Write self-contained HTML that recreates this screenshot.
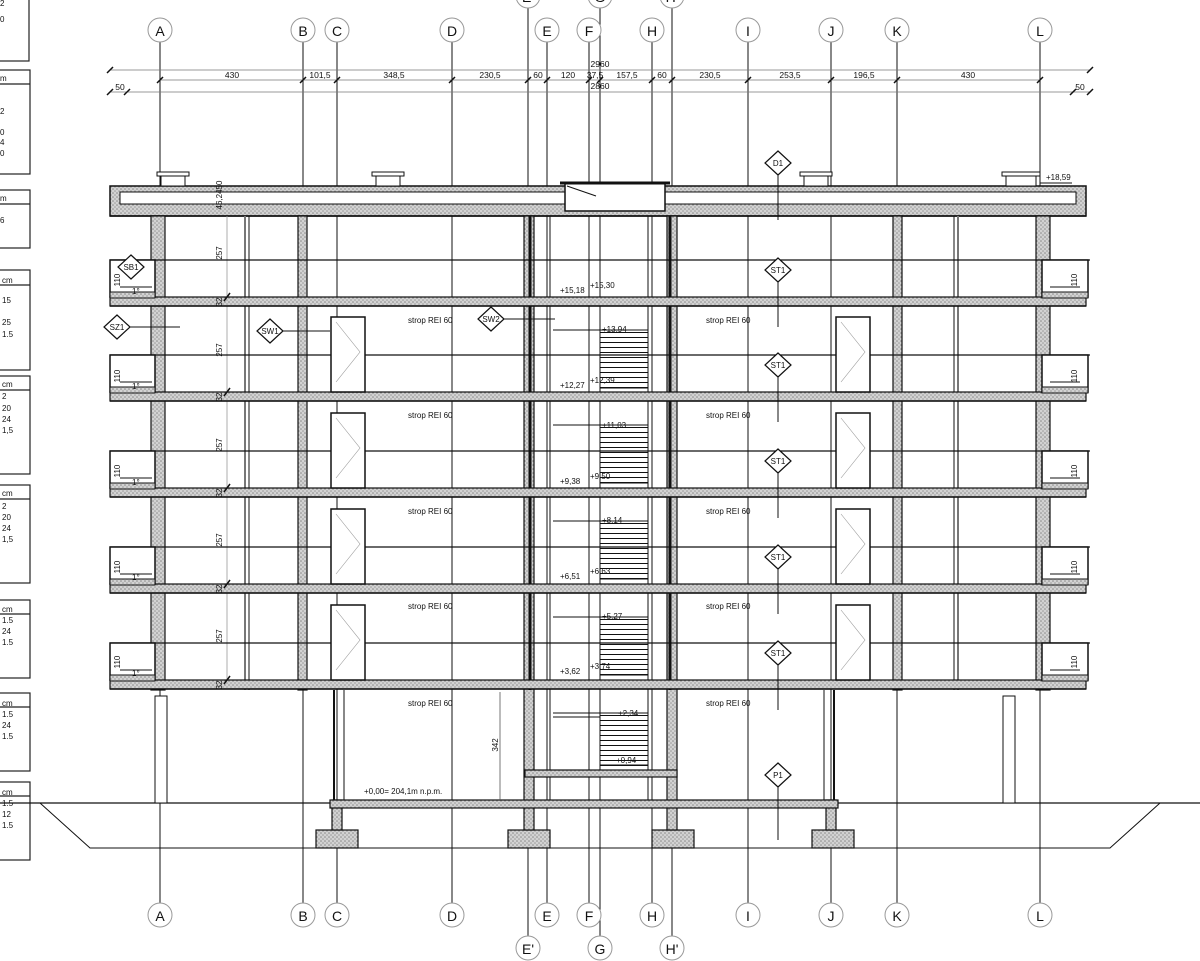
<!DOCTYPE html>
<html><head><meta charset="utf-8"><style>
html,body{margin:0;padding:0;background:#fff;}
svg{display:block;}
text{font-family:"Liberation Sans",sans-serif;fill:#111;stroke:none;}
</style></head><body>
<svg width="1200" height="961" viewBox="0 0 1200 961" xmlns="http://www.w3.org/2000/svg">
<defs>
<pattern id="h" width="4" height="4" patternUnits="userSpaceOnUse"><rect width="4" height="4" fill="#d2d2d2"/><circle cx="1" cy="1" r="0.8" fill="#888"/><circle cx="3" cy="3" r="0.8" fill="#999"/></pattern>
<pattern id="st" width="48" height="5" patternUnits="userSpaceOnUse"><rect width="48" height="5" fill="#fff"/><line x1="0" y1="0.5" x2="48" y2="0.5" stroke="#111" stroke-width="1"/></pattern>
<g id="dia"><polygon points="0,-12 13,0 0,12 -13,0" fill="#fff" stroke="#111" stroke-width="1.2"/></g>
<g id="door"><rect x="0" y="0" width="34" height="75" fill="#fff" stroke="#111" stroke-width="1.5"/><polyline points="5,5 29,35 5,65" fill="none" stroke="#999" stroke-width="0.6"/></g>
<g id="fl">
<rect x="110" y="0" width="976" height="9" fill="url(#h)" stroke="#111" stroke-width="1.2"/>
<line x1="110" y1="9" x2="1086" y2="9" stroke="#111" stroke-width="1.5"/>
<line x1="110" y1="-37" x2="1090" y2="-37" stroke="#111" stroke-width="1.2"/>
<rect x="110" y="-37" width="45" height="37" fill="#fff" stroke="#111" stroke-width="1.5"/>
<rect x="1042" y="-37" width="46" height="37" fill="#fff" stroke="#111" stroke-width="1.5"/>
<rect x="110" y="-5" width="45" height="6" fill="url(#h)" stroke="#111"/>
<rect x="1042" y="-5" width="46" height="6" fill="url(#h)" stroke="#111"/>
<line x1="120" y1="-10" x2="152" y2="-10" stroke="#111"/><line x1="1050" y1="-10" x2="1080" y2="-10" stroke="#111"/>
<line x1="778" y1="-15" x2="778" y2="30" stroke="#111"/>
<rect x="600" y="33" width="48" height="58" fill="url(#st)" stroke="#111"/>
<line x1="553" y1="33" x2="600" y2="33" stroke="#111"/><line x1="553" y1="-37" x2="600" y2="-37" stroke="#111"/>
<line x1="224" y1="4" x2="230" y2="-4" stroke="#111" stroke-width="1.5"/>
</g>
</defs>
<!-- legend boxes left -->
<g stroke="#222" fill="none" stroke-width="1.2">
<rect x="-2" y="-2" width="31" height="63"/>
<rect x="-2" y="70" width="32" height="104"/><line x1="-2" y1="84" x2="30" y2="84"/>
<rect x="-2" y="190" width="32" height="58"/><line x1="-2" y1="204" x2="30" y2="204"/>
<rect x="-2" y="270" width="32" height="100"/><line x1="-2" y1="285" x2="30" y2="285"/>
<rect x="-2" y="376" width="32" height="98"/><line x1="-2" y1="390" x2="30" y2="390"/>
<rect x="-2" y="485" width="32" height="98"/><line x1="-2" y1="499" x2="30" y2="499"/>
<rect x="-2" y="600" width="32" height="78"/><line x1="-2" y1="614" x2="30" y2="614"/>
<rect x="-2" y="693" width="32" height="78"/><line x1="-2" y1="707" x2="30" y2="707"/>
<rect x="-2" y="782" width="32" height="78"/><line x1="-2" y1="796" x2="30" y2="796"/>
</g>

<!-- axes -->
<g stroke="#111" stroke-width="1" fill="none">
<line x1="160" y1="42" x2="160" y2="903"/><line x1="303" y1="42" x2="303" y2="903"/><line x1="337" y1="42" x2="337" y2="903"/>
<line x1="452" y1="42" x2="452" y2="903"/><line x1="547" y1="42" x2="547" y2="903"/><line x1="589" y1="42" x2="589" y2="903"/>
<line x1="652" y1="42" x2="652" y2="903"/><line x1="748" y1="42" x2="748" y2="903"/><line x1="831" y1="42" x2="831" y2="903"/>
<line x1="897" y1="42" x2="897" y2="903"/><line x1="1040" y1="42" x2="1040" y2="903"/>
<line x1="528" y1="8" x2="528" y2="936"/><line x1="600" y1="8" x2="600" y2="936"/><line x1="672" y1="8" x2="672" y2="936"/>
</g>
<g stroke="#999" stroke-width="1" fill="#fff">
<circle cx="160" cy="30" r="12"/><circle cx="303" cy="30" r="12"/><circle cx="337" cy="30" r="12"/><circle cx="452" cy="30" r="12"/>
<circle cx="547" cy="30" r="12"/><circle cx="589" cy="30" r="12"/><circle cx="652" cy="30" r="12"/><circle cx="748" cy="30" r="12"/>
<circle cx="831" cy="30" r="12"/><circle cx="897" cy="30" r="12"/><circle cx="1040" cy="30" r="12"/>
<circle cx="528" cy="-4" r="12"/><circle cx="600" cy="-4" r="12"/><circle cx="672" cy="-4" r="12"/>
<circle cx="160" cy="915" r="12"/><circle cx="303" cy="915" r="12"/><circle cx="337" cy="915" r="12"/><circle cx="452" cy="915" r="12"/>
<circle cx="547" cy="915" r="12"/><circle cx="589" cy="915" r="12"/><circle cx="652" cy="915" r="12"/><circle cx="748" cy="915" r="12"/>
<circle cx="831" cy="915" r="12"/><circle cx="897" cy="915" r="12"/><circle cx="1040" cy="915" r="12"/>
<circle cx="528" cy="948" r="12"/><circle cx="600" cy="948" r="12"/><circle cx="672" cy="948" r="12"/>
</g>

<!-- dimension lines -->
<g stroke="#777" stroke-width="0.8">
<line x1="110" y1="70" x2="1090" y2="70"/><line x1="160" y1="80" x2="1040" y2="80"/><line x1="110" y1="92" x2="1090" y2="92"/>
</g>
<g stroke="#111" stroke-width="1.5">
<line x1="157" y1="83" x2="163" y2="77"/><line x1="300" y1="83" x2="306" y2="77"/><line x1="334" y1="83" x2="340" y2="77"/>
<line x1="449" y1="83" x2="455" y2="77"/><line x1="525" y1="83" x2="531" y2="77"/><line x1="544" y1="83" x2="550" y2="77"/>
<line x1="586" y1="83" x2="592" y2="77"/><line x1="597" y1="83" x2="603" y2="77"/><line x1="649" y1="83" x2="655" y2="77"/>
<line x1="669" y1="83" x2="675" y2="77"/><line x1="745" y1="83" x2="751" y2="77"/><line x1="828" y1="83" x2="834" y2="77"/>
<line x1="894" y1="83" x2="900" y2="77"/><line x1="1037" y1="83" x2="1043" y2="77"/>
<line x1="107" y1="95" x2="113" y2="89"/><line x1="124" y1="95" x2="130" y2="89"/><line x1="1070" y1="95" x2="1076" y2="89"/><line x1="1087" y1="95" x2="1093" y2="89"/>
<line x1="107" y1="73" x2="113" y2="67"/><line x1="1087" y1="73" x2="1093" y2="67"/>
</g>

<!-- roof -->
<rect x="110" y="186" width="976" height="30" fill="url(#h)" stroke="#111" stroke-width="1.5"/>
<rect x="120" y="192" width="956" height="12" fill="#fff" stroke="#111"/>
<line x1="110" y1="216" x2="1086" y2="216" stroke="#111" stroke-width="1.5"/>
<rect x="565" y="183" width="100" height="28" fill="#fff" stroke="#111" stroke-width="1.5"/>
<line x1="560" y1="183" x2="670" y2="183" stroke="#111" stroke-width="3"/>
<line x1="567" y1="186" x2="596" y2="196" stroke="#111"/>
<g fill="#fff" stroke="#111">
<rect x="157" y="172" width="32" height="4"/><rect x="161" y="176" width="24" height="10"/>
<rect x="372" y="172" width="32" height="4"/><rect x="376" y="176" width="24" height="10"/>
<rect x="800" y="172" width="32" height="4"/><rect x="804" y="176" width="24" height="10"/>
<rect x="1002" y="172" width="38" height="4"/><rect x="1006" y="176" width="30" height="10"/>
</g>
<line x1="1040" y1="183" x2="1072" y2="183" stroke="#111"/>

<!-- ground -->
<polyline points="40,803 90,848 1110,848 1160,803" fill="none" stroke="#111"/>
<line x1="0" y1="803" x2="1200" y2="803" stroke="#111" stroke-width="1.2"/>
<g fill="url(#h)" stroke="#111" stroke-width="1.2">
<rect x="316" y="830" width="42" height="18"/><rect x="508" y="830" width="42" height="18"/>
<rect x="652" y="830" width="42" height="18"/><rect x="812" y="830" width="42" height="18"/>
</g>

<!-- columns -->
<g fill="url(#h)" stroke="#111" stroke-width="1.2">
<rect x="151" y="216" width="14" height="474"/><rect x="298" y="216" width="9" height="474"/>
<rect x="524" y="216" width="10" height="614"/><rect x="667" y="216" width="10" height="614"/>
<rect x="893" y="216" width="9" height="474"/><rect x="1036" y="216" width="14" height="474"/>
<rect x="332" y="800" width="10" height="30"/><rect x="826" y="800" width="10" height="30"/>
</g>
<g stroke="#111" fill="none">
<line x1="245" y1="216" x2="245" y2="690" stroke="#777" stroke-width="2"/><line x1="249" y1="216" x2="249" y2="690"/>
<line x1="958" y1="216" x2="958" y2="690" stroke="#777" stroke-width="2"/><line x1="954" y1="216" x2="954" y2="690"/>
<line x1="530" y1="216" x2="530" y2="690" stroke-width="3"/><line x1="670" y1="216" x2="670" y2="690" stroke-width="3"/>
<line x1="550" y1="216" x2="550" y2="803"/><line x1="648" y1="216" x2="648" y2="803"/>
<line x1="227" y1="216" x2="227" y2="680" stroke="#999" stroke-width="0.8"/>
</g>

<!-- floors -->
<use href="#fl" y="297"/><use href="#fl" y="392"/><use href="#fl" y="488"/><use href="#fl" y="584"/><use href="#fl" y="680"/>
<use href="#door" x="331" y="317"/><use href="#door" x="836" y="317"/>
<use href="#door" x="331" y="413"/><use href="#door" x="836" y="413"/>
<use href="#door" x="331" y="509"/><use href="#door" x="836" y="509"/>
<use href="#door" x="331" y="605"/><use href="#door" x="836" y="605"/>

<!-- ground storey -->
<rect x="600" y="713" width="48" height="52" fill="url(#st)" stroke="#111"/>
<line x1="553" y1="717" x2="600" y2="717" stroke="#111"/>
<rect x="525" y="770" width="152" height="7" fill="url(#h)" stroke="#111" stroke-width="1.2"/>
<rect x="330" y="800" width="508" height="8" fill="url(#h)" stroke="#111" stroke-width="1.2"/>
<g stroke="#111" fill="none">
<line x1="334" y1="690" x2="334" y2="800" stroke-width="2"/><line x1="834" y1="690" x2="834" y2="800" stroke-width="2"/>
<line x1="344" y1="690" x2="344" y2="800"/><line x1="824" y1="690" x2="824" y2="800"/>
<rect x="155" y="696" width="12" height="107" fill="#fff"/><rect x="1003" y="696" width="12" height="107" fill="#fff"/>
<line x1="500" y1="692" x2="500" y2="800" stroke="#555" stroke-width="0.8"/>
<line x1="778" y1="175" x2="778" y2="220"/><line x1="778" y1="787" x2="778" y2="840"/>
<line x1="130" y1="327" x2="180" y2="327"/><line x1="283" y1="331" x2="330" y2="331"/><line x1="504" y1="319" x2="555" y2="319"/>
</g>

<!-- diamonds -->
<use href="#dia" x="778" y="163"/><use href="#dia" x="778" y="270"/><use href="#dia" x="778" y="365"/>
<use href="#dia" x="778" y="461"/><use href="#dia" x="778" y="557"/><use href="#dia" x="778" y="653"/>
<use href="#dia" x="778" y="775"/><use href="#dia" x="131" y="267"/><use href="#dia" x="117" y="327"/>
<use href="#dia" x="270" y="331"/><use href="#dia" x="491" y="319"/>

<!-- texts -->
<g font-size="8">
<text x="0" y="6">2</text><text x="0" y="22">0</text>
<text x="0" y="81">m</text><text x="0" y="114">2</text><text x="0" y="135">0</text><text x="0" y="145">4</text><text x="0" y="156">0</text>
<text x="0" y="201">m</text><text x="0" y="223">6</text>
<text x="2" y="283">cm</text><text x="2" y="303">15</text><text x="2" y="325">25</text><text x="2" y="337">1.5</text>
<text x="2" y="387">cm</text><text x="2" y="399">2</text><text x="2" y="411">20</text><text x="2" y="422">24</text><text x="2" y="433">1,5</text>
<text x="2" y="496">cm</text><text x="2" y="509">2</text><text x="2" y="520">20</text><text x="2" y="531">24</text><text x="2" y="542">1,5</text>
<text x="2" y="612">cm</text><text x="2" y="623">1.5</text><text x="2" y="634">24</text><text x="2" y="645">1.5</text>
<text x="2" y="706">cm</text><text x="2" y="717">1.5</text><text x="2" y="728">24</text><text x="2" y="739">1.5</text>
<text x="2" y="795">cm</text><text x="2" y="806">1.5</text><text x="2" y="817">12</text><text x="2" y="828">1.5</text>
</g>
<g font-size="14" text-anchor="middle">
<text x="160" y="36">A</text><text x="303" y="36">B</text><text x="337" y="36">C</text><text x="452" y="36">D</text>
<text x="547" y="36">E</text><text x="589" y="36">F</text><text x="652" y="36">H</text><text x="748" y="36">I</text>
<text x="831" y="36">J</text><text x="897" y="36">K</text><text x="1040" y="36">L</text>
<text x="528" y="2">E'</text><text x="600" y="2">G</text><text x="672" y="2">H'</text>
<text x="160" y="921">A</text><text x="303" y="921">B</text><text x="337" y="921">C</text><text x="452" y="921">D</text>
<text x="547" y="921">E</text><text x="589" y="921">F</text><text x="652" y="921">H</text><text x="748" y="921">I</text>
<text x="831" y="921">J</text><text x="897" y="921">K</text><text x="1040" y="921">L</text>
<text x="528" y="954">E'</text><text x="600" y="954">G</text><text x="672" y="954">H'</text>
</g>
<g font-size="8.5" text-anchor="middle">
<text x="600" y="67">2960</text><text x="600" y="89">2860</text>
<text x="232" y="78">430</text><text x="320" y="78">101,5</text><text x="394" y="78">348,5</text><text x="490" y="78">230,5</text>
<text x="538" y="78">60</text><text x="568" y="78">120</text><text x="595" y="78">37,5</text><text x="627" y="78">157,5</text>
<text x="662" y="78">60</text><text x="710" y="78">230,5</text><text x="790" y="78">253,5</text><text x="864" y="78">196,5</text><text x="968" y="78">430</text>
<text x="120" y="90">50</text><text x="1080" y="90">50</text>
</g>
<g font-size="8">
<text x="408" y="323">strop REI 60</text><text x="706" y="323">strop REI 60</text>
<text x="408" y="418">strop REI 60</text><text x="706" y="418">strop REI 60</text>
<text x="408" y="514">strop REI 60</text><text x="706" y="514">strop REI 60</text>
<text x="408" y="609">strop REI 60</text><text x="706" y="609">strop REI 60</text>
<text x="408" y="706">strop REI 60</text><text x="706" y="706">strop REI 60</text>
<text x="560" y="293">+15,18</text><text x="590" y="288">+15,30</text><text x="602" y="332">+13,94</text>
<text x="560" y="388">+12,27</text><text x="590" y="383">+12,39</text><text x="602" y="428">+11,03</text>
<text x="560" y="484">+9,38</text><text x="590" y="479">+9,50</text><text x="602" y="523">+8,14</text>
<text x="560" y="579">+6,51</text><text x="590" y="574">+6,63</text><text x="602" y="619">+5,27</text>
<text x="560" y="674">+3,62</text><text x="590" y="669">+3,74</text><text x="618" y="716">+2,34</text>
<text x="616" y="763">+0,94</text>
<text x="364" y="794">+0,00= 204,1m n.p.m.</text>
<text x="1046" y="180">+18,59</text>
<text x="131" y="270" text-anchor="middle">SB1</text><text x="117" y="330" text-anchor="middle">SZ1</text>
<text x="270" y="334" text-anchor="middle">SW1</text><text x="491" y="322" text-anchor="middle">SW2</text>
<text x="778" y="166" text-anchor="middle">D1</text>
<text x="778" y="273" text-anchor="middle">ST1</text><text x="778" y="368" text-anchor="middle">ST1</text>
<text x="778" y="464" text-anchor="middle">ST1</text><text x="778" y="560" text-anchor="middle">ST1</text>
<text x="778" y="656" text-anchor="middle">ST1</text><text x="778" y="778" text-anchor="middle">P1</text>
<text x="132" y="294">1°</text><text x="132" y="389">1°</text><text x="132" y="485">1°</text><text x="132" y="580">1°</text><text x="132" y="676">1°</text>
</g>
<g font-size="8" text-anchor="middle">
<text transform="translate(222,253) rotate(-90)">257</text>
<text transform="translate(222,350) rotate(-90)">257</text>
<text transform="translate(222,445) rotate(-90)">257</text>
<text transform="translate(222,540) rotate(-90)">257</text>
<text transform="translate(222,636) rotate(-90)">257</text>
<text transform="translate(222,195) rotate(-90)">46,2450</text>
<text transform="translate(498,745) rotate(-90)">342</text>
<text transform="translate(120,280) rotate(-90)">110</text><text transform="translate(120,376) rotate(-90)">110</text>
<text transform="translate(120,471) rotate(-90)">110</text><text transform="translate(120,567) rotate(-90)">110</text>
<text transform="translate(120,662) rotate(-90)">110</text>
<text transform="translate(1077,280) rotate(-90)">110</text><text transform="translate(1077,376) rotate(-90)">110</text>
<text transform="translate(1077,471) rotate(-90)">110</text><text transform="translate(1077,567) rotate(-90)">110</text>
<text transform="translate(1077,662) rotate(-90)">110</text>
<text transform="translate(222,302) rotate(-90)">32</text><text transform="translate(222,397) rotate(-90)">32</text>
<text transform="translate(222,493) rotate(-90)">32</text><text transform="translate(222,589) rotate(-90)">32</text>
<text transform="translate(222,685) rotate(-90)">32</text>
</g>
</svg>
</body></html>
